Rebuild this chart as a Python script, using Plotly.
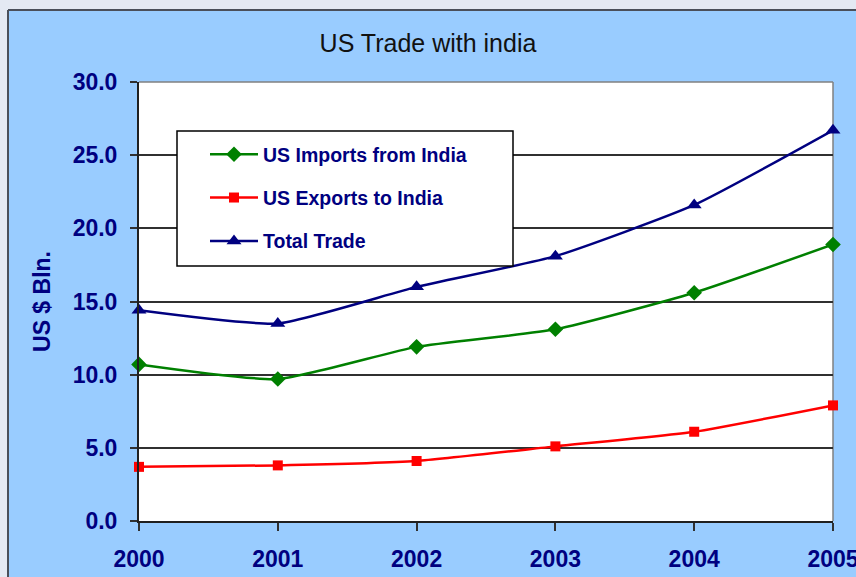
import plotly.graph_objects as go

years = [2000, 2001, 2002, 2003, 2004, 2005]
imports_from_india = [10.7, 9.7, 11.9, 13.1, 15.6, 18.9]
exports_to_india = [3.7, 3.8, 4.1, 5.1, 6.1, 7.9]
total_trade = [14.4, 13.5, 16.0, 18.1, 21.6, 26.7]
y_ticks = [0, 5, 10, 15, 20, 25, 30]

W, H = 856, 577
L, R, T, B = 139, 833, 82, 521
NAVY = "#000080"
FONT = "Liberation Sans, Arial, sans-serif"


def px_x(px):
    return (px - L) / (R - L)


def px_y(py):
    return (B - py) / (B - T)


fig = go.Figure()
series = [
    ("US Imports from India", imports_from_india, "#008000", "diamond", 12),
    ("US Exports to India", exports_to_india, "#FF0000", "square", 10),
    ("Total Trade", total_trade, NAVY, "triangle-up", 13),
]
for i, (name, vals, col, sym, sz) in enumerate(series):
    fig.add_trace(go.Scatter(
        x=years, y=vals, name=name, mode="lines+markers",
        line=dict(color=col, width=2.5, shape="spline", smoothing=0.5),
        marker=dict(symbol=sym, size=sz, color=col),
        legendgroup=f"g{i}", cliponaxis=False,
    ))

shapes = [
    # gray outer strips
    dict(type="rect", xref="paper", yref="paper", x0=px_x(-5), x1=px_x(8), y0=px_y(600), y1=px_y(-5),
         fillcolor="#E4E9F3", line=dict(width=0), layer="below"),
    dict(type="rect", xref="paper", yref="paper", x0=px_x(-5), x1=px_x(870), y0=px_y(10), y1=px_y(-5),
         fillcolor="#E4E9F3", line=dict(width=0), layer="below"),
    dict(type="line", xref="paper", yref="paper", x0=px_x(8), x1=px_x(8), y0=px_y(600), y1=px_y(10),
         line=dict(color="#4A4F5A", width=2), layer="below"),
    dict(type="line", xref="paper", yref="paper", x0=px_x(8), x1=px_x(870), y0=px_y(10), y1=px_y(10),
         line=dict(color="#4A4F5A", width=2), layer="below"),
    # top / right plot border
    dict(type="line", xref="paper", yref="paper", x0=0, x1=1, y0=1, y1=1,
         line=dict(color="#808080", width=1.5), layer="below"),
    dict(type="line", xref="paper", yref="paper", x0=1, x1=1, y0=0, y1=1,
         line=dict(color="#808080", width=1.5), layer="below"),
    # legend box
    dict(type="rect", xref="paper", yref="paper", x0=px_x(177), x1=px_x(513), y0=px_y(266), y1=px_y(131),
         fillcolor="white", line=dict(color="#000000", width=1.5), layer="above"),
]

fig.update_layout(
    width=W, height=H, autosize=False,
    margin=dict(l=L, r=W - R, t=T, b=H - B, pad=0),
    paper_bgcolor="#99CCFF", plot_bgcolor="white",
    font=dict(family=FONT, color=NAVY),
    title=dict(text="US Trade with india", x=0.5, xanchor="center", y=1 - 43 / H, yanchor="middle",
               font=dict(family=FONT, size=25, color="#111111")),
    showlegend=True,
    legend=dict(x=px_x(205), y=px_y(135), xanchor="left", yanchor="top",
                bgcolor="rgba(0,0,0,0)", borderwidth=0, traceorder="grouped",
                tracegroupgap=15, itemwidth=48,
                font=dict(family=FONT, size=19.5, color=NAVY, weight="bold")),
    shapes=shapes,
    xaxis=dict(range=[2000, 2005], tickmode="array", tickvals=years, ticktext=[str(y) for y in years],
               showgrid=False, zeroline=False, showline=True, linecolor="#202020", linewidth=2,
               ticks="outside", ticklen=8, tickwidth=2, tickcolor="#303030", automargin=False,
               ticklabeloverflow="allow",
               tickfont=dict(family=FONT, size=23, color=NAVY, weight="bold"), ticklabelstandoff=8),
    yaxis=dict(range=[0, 30], tickmode="array", tickvals=y_ticks, ticktext=[f"{v:.1f}" for v in y_ticks],
               showgrid=True, gridcolor="#303030", gridwidth=1.5, zeroline=False,
               showline=True, linecolor="#202020", linewidth=2,
               ticks="outside", ticklen=7, tickwidth=2, tickcolor="#303030", automargin=False,
               ticklabeloverflow="allow",
               tickfont=dict(family=FONT, size=23, color=NAVY, weight="bold"), ticklabelstandoff=8,
               title=dict(text="US $ Bln.", standoff=16, font=dict(family=FONT, size=23, color=NAVY, weight="bold"))),
)

fig.write_html("out.html", config={"displayModeBar": False},
               post_script="document.body.style.margin='0';document.body.style.overflow='hidden';")
